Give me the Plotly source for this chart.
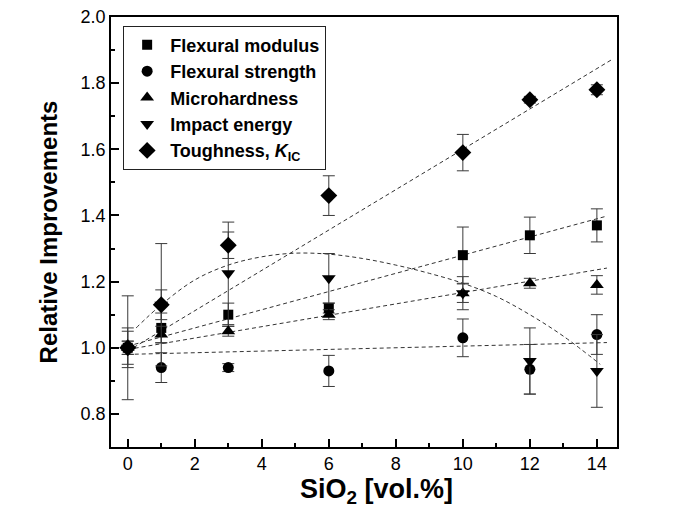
import numpy as np
import plotly.graph_objects as go

# SiO2 content of the composites [vol.%]
vol = [0, 1, 3, 6, 10, 12, 14]

# Relative improvements (property / property of unfilled matrix) with scatter
modulus = [1.00, 1.06, 1.10, 1.12, 1.28, 1.34, 1.37]
modulus_err = [0.05, 0.045, 0.035, 0.015, 0.085, 0.055, 0.05]
strength = [1.00, 0.94, 0.94, 0.93, 1.03, 0.935, 1.04]
strength_err = [0.06, 0.045, 0.012, 0.047, 0.057, 0.075, 0.06]
hardness = [1.00, 1.04, 1.05, 1.10, 1.165, 1.195, 1.19]
hardness_err = [0.02, 0.025, 0.015, 0.015, 0.028, 0.015, 0.028]
impact = [1.00, 1.13, 1.225, 1.21, 1.165, 0.96, 0.93]
impact_err = [0.157, 0.185, 0.155, 0.075, 0.05, 0.10, 0.11]
tough = [1.00, 1.13, 1.31, 1.46, 1.59, 1.75, 1.78]
tough_err = [0.02, 0.045, 0.04, 0.06, 0.055, 0.01, 0.015]

# Linear trends: intercept, slope, x-end
trend_modulus = (1.005, 0.0275, 14.3)
trend_strength = (0.980, 0.0025, 14.3)
trend_hardness = (0.995, 0.0172, 14.3)
trend_tough = (0.990, 0.0610, 14.45)

# Impact energy trend curve
impact_curve_x = [0.25, 1, 2, 3, 4, 5, 6, 7, 8, 9, 10, 11, 12, 13, 14.1]
impact_curve_y = [1.06, 1.13, 1.205, 1.25, 1.275, 1.286, 1.283, 1.27, 1.25, 1.225,
                  1.195, 1.155, 1.10, 1.035, 0.95]

FONT = "Liberation Sans, Arial, sans-serif"
ERR_COLOR = "#3a3a3a"
DASH = "4px,3px"

fig = go.Figure()

# dashed trend lines
for b0, b1, xe in (trend_modulus, trend_strength, trend_hardness, trend_tough):
    xs = np.array([0.0, xe])
    fig.add_trace(go.Scatter(
        x=xs, y=b0 + b1 * xs, mode="lines", showlegend=False, hoverinfo="skip",
        line=dict(color="#333333", width=1, dash=DASH)))
fig.add_trace(go.Scatter(
    x=impact_curve_x, y=impact_curve_y, mode="lines", showlegend=False,
    hoverinfo="skip", line=dict(color="#333333", width=1, dash=DASH, shape="spline")))

series = [
    ("Flexural modulus", modulus, modulus_err, "square", 10),
    ("Flexural strength", strength, strength_err, "circle", 11),
    ("Microhardness", hardness, hardness_err, "triangle-up", 12),
    ("Impact energy", impact, impact_err, "triangle-down", 12),
    ("Toughness, <i>K</i><sub>IC</sub>", tough, tough_err, "diamond", 13),
]
for name, vals, errs, sym, size in series:
    fig.add_trace(go.Scatter(
        x=vol, y=vals, name=name, mode="markers",
        marker=dict(symbol=sym, size=size, color="black"),
        error_y=dict(type="data", array=errs, visible=True,
                     color=ERR_COLOR, thickness=1, width=6)))

axis_common = dict(
    showline=True, linecolor="black", linewidth=1.5, mirror=True,
    ticks="inside", ticklen=8, tickwidth=1.5, tickcolor="black",
    showgrid=False, zeroline=False,
    tickfont=dict(family=FONT, size=18, color="black"),
)

fig.update_xaxes(
    range=[-0.5, 14.6], tickvals=[0, 2, 4, 6, 8, 10, 12, 14],
    minor=dict(ticks="inside", ticklen=4, tickwidth=1.5, tickcolor="black", dtick=1),
    **axis_common)
fig.update_yaxes(
    range=[0.7, 2.0], tickvals=[0.8, 1.0, 1.2, 1.4, 1.6, 1.8, 2.0],
    ticktext=["0.8", "1.0", "1.2", "1.4", "1.6", "1.8", "2.0"],
    minor=dict(ticks="inside", ticklen=4, tickwidth=1.5, tickcolor="black", dtick=0.1,
               tick0=0.7),
    title=dict(text="<b>Relative Improvements</b>",
               font=dict(family=FONT, size=24, color="black"), standoff=16),
    **axis_common)

# x-axis title, set slightly right of the plot centre
fig.add_annotation(
    text="<b>SiO<sub>2</sub> [vol.%]</b>", xref="paper", yref="paper",
    x=0.524, y=0, yshift=-44, xanchor="center", yanchor="middle",
    showarrow=False, font=dict(family=FONT, size=27, color="black"))

fig.update_layout(
    width=689, height=523,
    margin=dict(l=111, r=72, t=17, b=76, autoexpand=False),
    paper_bgcolor="white", plot_bgcolor="white",
    font=dict(family=FONT, color="black"),
    legend=dict(
        x=0.024, y=0.98, xanchor="left", yanchor="top",
        bgcolor="white", bordercolor="#222222", borderwidth=1,
        font=dict(family=FONT, size=18, color="black", weight="bold"),
        tracegroupgap=0, itemsizing="trace", itemwidth=36,
    ),
)

fig.write_html("out.html")
